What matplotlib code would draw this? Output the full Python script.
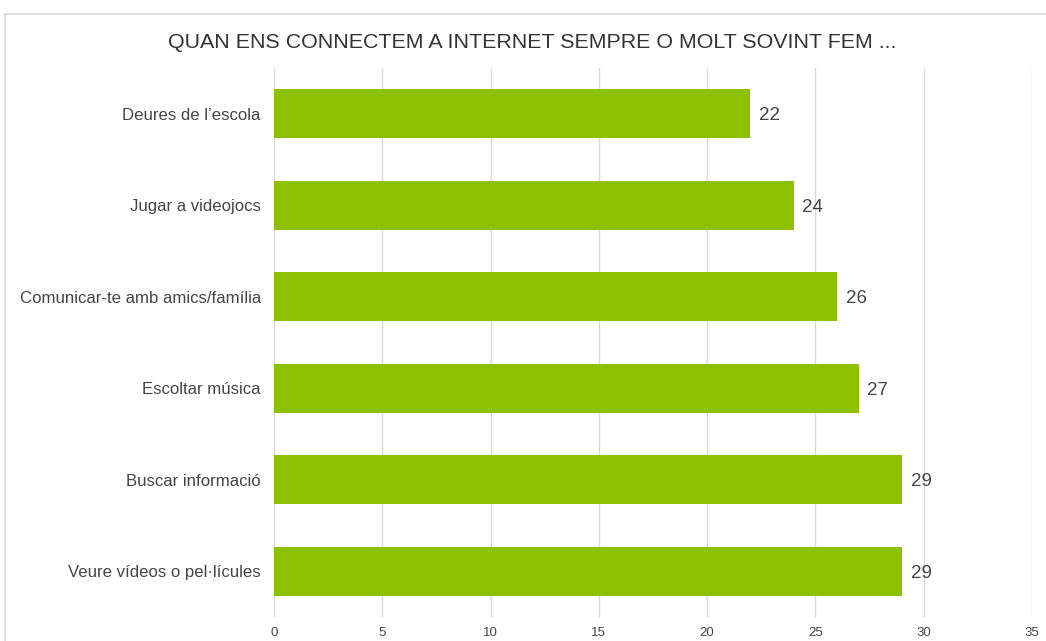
import matplotlib.pyplot as plt
from matplotlib.lines import Line2D

plt.rcParams['font.family'] = ['Liberation Sans', 'DejaVu Sans']

categories = [
    "Deures de l\u2019escola",
    "Jugar a videojocs",
    "Comunicar-te amb amics/família",
    "Escoltar música",
    "Buscar informació",
    "Veure vídeos o pel\u00b7lícules",
]
values = [22, 24, 26, 27, 29, 29]
xticks = [0, 5, 10, 15, 20, 25, 30, 35]
title = "QUAN ENS CONNECTEM A INTERNET SEMPRE O MOLT SOVINT FEM ..."

bar_color = "#8dc100"
grid_color = "#d9d9d9"
text_color = "#444444"

fig = plt.figure(figsize=(10.46, 6.41), dpi=100)
W, H = 1046, 641
# axes: x from 274 to 1032 px, y from 68 to 617 px
ax = fig.add_axes([274 / W, 1 - 617 / H, (1032 - 274) / W, (617 - 68) / H])

ypos = list(range(len(categories)))
ax.barh(ypos, values, height=0.54, color=bar_color, zorder=3)
for y, v in zip(ypos, values):
    ax.text(v + 0.4, y, str(v), va="center_baseline", ha="left", fontsize=13.5, color=text_color)

ax.set_xlim(0, 35)
ax.set_ylim(len(categories) - 0.5, -0.5)
ax.set_xticks(xticks)
ax.set_xticklabels([str(t) for t in xticks], fontsize=9.5, color=text_color)
ax.set_yticks(ypos)
ax.set_yticklabels(categories, fontsize=12.1, color=text_color)
ax.tick_params(length=0)
ax.tick_params(axis="y", pad=9.5)
ax.tick_params(axis="x", pad=7)
ax.grid(axis="x", color=grid_color, linewidth=1, zorder=0)
for s in ax.spines.values():
    s.set_visible(False)

fig.text(532 / W, 1 - 42 / H, title, ha="center", va="center", fontsize=15.4, color="#333333")

# frame of the chart box (cropped on right and bottom)
fig.add_artist(Line2D([5 / W, 1], [1 - 14 / H, 1 - 14 / H], transform=fig.transFigure, color=grid_color, lw=1.2))
fig.add_artist(Line2D([5 / W, 5 / W], [0, 1 - 14 / H], transform=fig.transFigure, color=grid_color, lw=1.2))

fig.savefig("out.png", dpi=100)
